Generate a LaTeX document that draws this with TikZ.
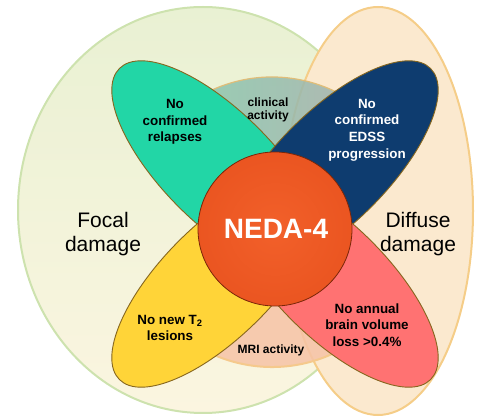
\documentclass[tikz,border=0pt]{standalone}
\usepackage{fontspec}
\setmainfont{Liberation Sans}
\usetikzlibrary{positioning}

\definecolor{focalhi}{HTML}{E9F1D3}
\definecolor{focallo}{HTML}{FBF5E0}
\definecolor{focalline}{HTML}{CDE2AE}
\definecolor{diffusefill}{HTML}{FBE9CF}
\definecolor{diffuseline}{HTML}{F5CD88}
\definecolor{clinleft}{HTML}{7FCFB0}
\definecolor{clinright}{HTML}{ABA9AB}
\definecolor{clinline}{HTML}{E0BD78}
\definecolor{mrifill}{HTML}{F6C3A6}
\definecolor{mriline}{HTML}{F5C98C}
\definecolor{tealpetal}{HTML}{22D6A6}
\definecolor{bluepetal}{HTML}{0E3C6F}
\definecolor{yellowpetal}{HTML}{FFD438}
\definecolor{pinkpetal}{HTML}{FF7272}
\definecolor{petalline}{HTML}{86661E}
\definecolor{nedahi}{HTML}{F2602A}
\definecolor{nedamid}{HTML}{E9531F}
\definecolor{nedalo}{HTML}{BF3A10}
\definecolor{nedaedge}{HTML}{7A2608}

\pgfdeclareradialshading{nedashade}{\pgfpoint{0bp}{0bp}}{color(0bp)=(nedahi); color(30bp)=(nedamid); color(45bp)=(nedamid); color(50bp)=(nedalo)}

\tikzset{
  petal/.style={draw=petalline, line width=0.9pt},
  petaltext/.style={font=\fontsize{13.4}{16.7}\selectfont\bfseries, align=center},
  smalltext/.style={font=\fontsize{12}{13.4}\selectfont\bfseries, align=center},
  damagetext/.style={font=\fontsize{21}{23.5}\selectfont, align=center}
}

\begin{document}
\begin{tikzpicture}[x=1pt,y=1pt]
\useasboundingbox (0,0) rectangle (479,420);

% focal and diffuse damage
\shade[top color=focalhi, bottom color=focallo] (203,210) ellipse [x radius=185, y radius=203];
\draw[focalline, line width=2pt] (203,210) ellipse [x radius=185, y radius=203];
\fill[diffusefill] (378,209) ellipse [x radius=95, y radius=204];
\draw[diffuseline, line width=2pt] (378,209) ellipse [x radius=95, y radius=204];

% clinical and MRI activity
\begin{scope}
\clip (0,258) rectangle (479,420);
\shade[left color=clinleft, right color=clinright, opacity=0.85] (272,198) circle [radius=145];
\end{scope}
\draw[clinline, line width=1.2pt] (272,198) ++(30:145) arc [start angle=30, end angle=150, radius=145];
\begin{scope}
\clip (0,0) rectangle (479,132);
\fill[mrifill, opacity=0.85] (272,198) circle [radius=145];
\end{scope}
\draw[mriline, line width=2pt] (272,198) ++(210:145) arc [start angle=210, end angle=330, radius=145];

% petals
\coordinate (ctr) at (275,196);
\draw[petal, fill=tealpetal, shift={(ctr)}, rotate=135] (80,0) ellipse [x radius=140, y radius=56];
\draw[petal, fill=bluepetal, shift={(ctr)}, rotate=45] (80,0) ellipse [x radius=140, y radius=56];
\draw[petal, fill=yellowpetal, shift={(ctr)}, rotate=225] (80,0) ellipse [x radius=140, y radius=56];
\draw[petal, fill=pinkpetal, shift={(ctr)}, rotate=315] (80,0) ellipse [x radius=140, y radius=56];

% NEDA-4
\shadedraw[shading=nedashade, draw=nedaedge, line width=0.8pt] (275,191) circle [radius=77];

\node[petaltext] (relapses) at (175,298) {No\\confirmed\\relapses};
\node[petaltext, text=white] (edss) at (367,290) {No\\confirmed\\EDSS\\progression};
\node[smalltext] (clinical) at (268,310) {clinical\\activity};
\node[font=\fontsize{28}{30}\selectfont\bfseries, text=white] (neda) at (276,191) {NEDA-4};
\node[damagetext] (focal) at (103,186) {Focal\\damage};
\node[damagetext] (diffuse) at (418,186) {Diffuse\\damage};
\node[petaltext] (lesions) at (170,92) {No new T\textsubscript{2}\\lesions};
\node[smalltext] (mri) at (271,70) {MRI activity};
\node[petaltext] (brainloss) at (367,95) {No annual\\brain volume\\loss >0.4\%};

\end{tikzpicture}
\end{document}
